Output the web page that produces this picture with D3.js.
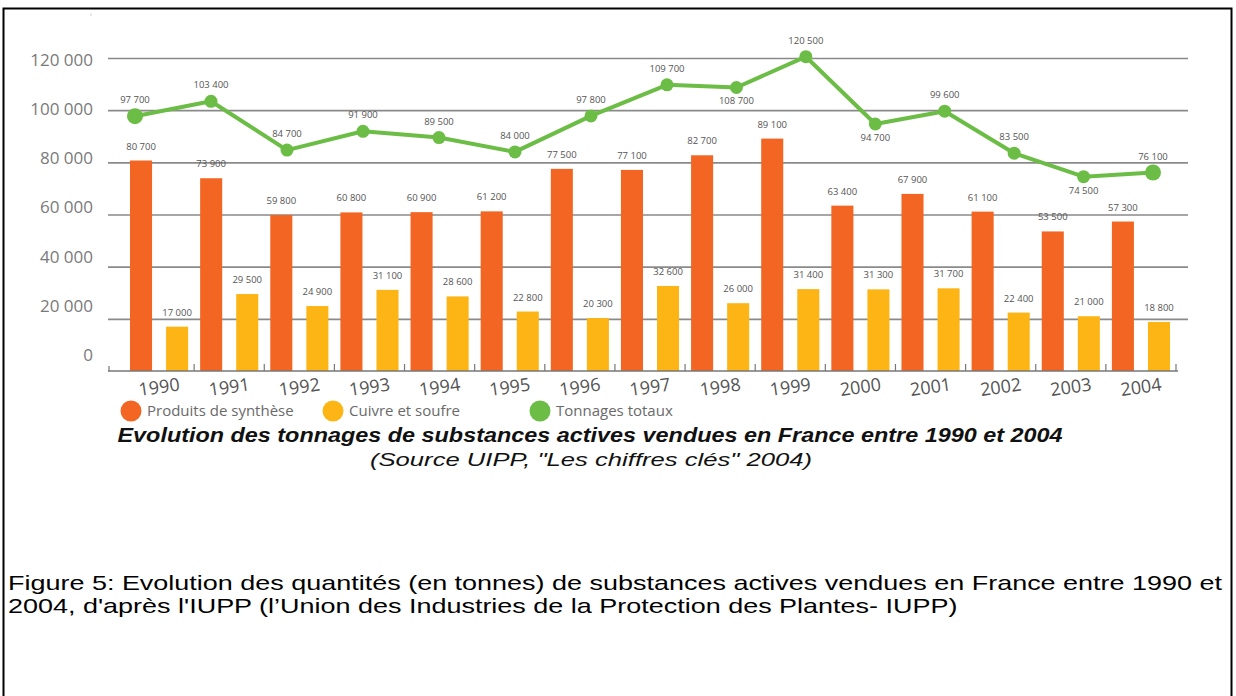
<!DOCTYPE html>
<html>
<head>
<meta charset="utf-8">
<script src="https://cdn.jsdelivr.net/npm/d3@7"></script>
<style>
  body { margin: 0; background: #fff; }
  svg { display: block; }
</style>
</head>
<body>
<div id="chart"></div>
<script>
// data
var years = [1990, 1991, 1992, 1993, 1994, 1995, 1996, 1997, 1998, 1999, 2000, 2001, 2002, 2003, 2004];
var synthese = [80700, 73900, 59800, 60800, 60900, 61200, 77500, 77100, 82700, 89100, 63400, 67900, 61100, 53500, 57300];
var cuivre = [17000, 29500, 24900, 31100, 28600, 22800, 20300, 32600, 26000, 31400, 31300, 31700, 22400, 21000, 18800];
var totaux = [97700, 103400, 84700, 91900, 89500, 84000, 97800, 109700, 108700, 120500, 94700, 99600, 83500, 74500, 76100];
var yTicks = [0, 20000, 40000, 60000, 80000, 100000, 120000];
var totalLabelBelow = [1998, 2000, 2003];

var seriesNames = ["Produits de synthèse", "Cuivre et soufre", "Tonnages totaux"];
var colors = ["#f26522", "#fdb515", "#6cbd45"];

var svgWidth = 1236;
var svgHeight = 696;

var fr = d3.formatLocale({decimal: ",", thousands: " ", grouping: [3], currency: ["", " €"]});
var fmt = fr.format(",");

var svg = d3.select("#chart")
    .append("svg")
    .attr("width", svgWidth)
    .attr("height", svgHeight);

// frame
svg.append("rect")
    .attr("x", 3.5).attr("y", 8.5)
    .attr("width", 1228).attr("height", 720)
    .attr("fill", "none")
    .attr("stroke", "#000")
    .attr("stroke-width", 2);

// scales
var y = d3.scaleLinear().domain([0, 120000]).range([371, 58]);
// tick labels in the original are a bit tighter than the grid
var yLabel = d3.scaleLinear().domain([0, 120000]).range([355, 60]);

var x = d3.scaleBand().domain(years).range([124, 1176]);
var xSub = d3.scaleBand()
    .domain(["synthese", "cuivre"])
    .range([0, x.bandwidth()])
    .paddingInner(14 / 36)
    .paddingOuter(1 / 6);
// the totals line sits on its own, slightly wider, axis
var xLine = d3.scaleLinear().domain([1990, 1997, 2004]).range([135, 667, 1153]);

// grid
var grid = svg.append("g")
    .attr("transform", "translate(108,0)")
    .call(d3.axisRight(y).tickValues(yTicks.filter(d => d > 0)).tickSize(1080).tickFormat(""));
grid.select(".domain").remove();
grid.selectAll("line").attr("stroke", "#8a8a8a").attr("stroke-width", 1.6);

// y labels
var yAxis = svg.append("g")
    .attr("transform", "translate(93,0)")
    .call(d3.axisLeft(yLabel).tickValues(yTicks).tickSize(0).tickPadding(0).tickFormat(fmt));
yAxis.select(".domain").remove();
yAxis.selectAll("text")
    .attr("fill", "#7a7a7a")
    .style("font-family", "'Open Sans', sans-serif")
    .style("font-size", "17px");

svg.append("text")
    .attr("x", 90).attr("y", 20)
    .attr("fill", "#aaa")
    .style("font-size", "9px")
    .text("'");

// bars
var bars = svg.append("g");
years.forEach(function (yr, i) {
    var g = bars.append("g").attr("transform", `translate(${x(yr)},0)`);
    [["synthese", synthese[i], colors[0]], ["cuivre", cuivre[i], colors[1]]].forEach(function (s) {
        g.append("rect")
            .attr("x", xSub(s[0]))
            .attr("y", y(s[1]))
            .attr("width", xSub.bandwidth())
            .attr("height", y(0) - y(s[1]))
            .attr("fill", s[2]);
        g.append("text")
            .attr("x", xSub(s[0]) + xSub.bandwidth() / 2)
            .attr("y", y(s[1]) - 11)
            .attr("text-anchor", "middle")
            .attr("fill", "#555")
            .style("font-family", "'Open Sans', sans-serif")
            .style("font-size", "9.5px")
            .text(fmt(s[1]));
    });
});

// baseline with the small ticks between years
svg.append("line")
    .attr("x1", 108).attr("x2", 1178)
    .attr("y1", y(0)).attr("y2", y(0))
    .attr("stroke", "#777").attr("stroke-width", 1.6);
svg.append("g").selectAll("line")
    .data(years)
    .enter()
    .append("line")
    .attr("x1", d => x(d) + x.bandwidth())
    .attr("x2", d => x(d) + x.bandwidth())
    .attr("y1", y(0)).attr("y2", y(0) - 7)
    .attr("stroke", "#777").attr("stroke-width", 1.2);
svg.append("line")
    .attr("x1", 109).attr("x2", 109)
    .attr("y1", y(0)).attr("y2", y(0) - 5)
    .attr("stroke", "#777").attr("stroke-width", 1.2);

// year labels, slightly tilted
svg.append("g").selectAll("text")
    .data(years)
    .enter()
    .append("text")
    .attr("transform", d => `translate(${x(d) + x.bandwidth() / 2},${y(0) + 16}) rotate(-8)`)
    .attr("text-anchor", "middle")
    .attr("dy", "0.35em")
    .attr("fill", "#555")
    .style("font-family", "'Open Sans', sans-serif")
    .style("font-size", "18px")
    .text(d => d);

// totals line
var lineData = years.map((yr, i) => ({year: yr, value: totaux[i]}));
svg.append("path")
    .datum(lineData)
    .attr("fill", "none")
    .attr("stroke", colors[2])
    .attr("stroke-width", 4)
    .attr("stroke-linejoin", "round")
    .attr("d", d3.line().x(d => xLine(d.year)).y(d => y(d.value)));

svg.append("g").selectAll("circle")
    .data(lineData)
    .enter()
    .append("circle")
    .attr("cx", d => xLine(d.year))
    .attr("cy", d => y(d.value))
    .attr("r", (d, i) => (i === 0 || i === years.length - 1) ? 8 : 6.5)
    .attr("fill", colors[2]);

svg.append("g").selectAll("text")
    .data(lineData)
    .enter()
    .append("text")
    .attr("x", d => xLine(d.year))
    .attr("y", d => y(d.value) + (totalLabelBelow.indexOf(d.year) >= 0 ? 17 : -13))
    .attr("text-anchor", "middle")
    .attr("fill", "#555")
    .style("font-family", "'Open Sans', sans-serif")
    .style("font-size", "9.5px")
    .text(d => fmt(d.value));

// legend
var legendX = [131, 333, 540];
var legend = svg.append("g").selectAll("g")
    .data(seriesNames)
    .enter()
    .append("g")
    .attr("transform", (d, i) => `translate(${legendX[i]},411)`);
legend.append("circle")
    .attr("r", 10.5)
    .attr("fill", (d, i) => colors[i]);
legend.append("text")
    .attr("x", 16)
    .attr("dy", "0.35em")
    .attr("fill", "#6a6a6a")
    .style("font-family", "'Open Sans', sans-serif")
    .style("font-size", "15px")
    .text(d => d);

// stretch a text line to a width measured on the picture
function stretchText(sel, width) {
    sel.attr("textLength", width).attr("lengthAdjust", "spacingAndGlyphs");
}

var title = svg.append("text")
    .attr("x", 590).attr("y", 442)
    .attr("text-anchor", "middle")
    .attr("fill", "#111")
    .style("font-family", "'Liberation Sans', Arial, sans-serif")
    .style("font-weight", "bold")
    .style("font-style", "italic")
    .style("font-size", "21px")
    .text("Evolution des tonnages de substances actives vendues en France entre 1990 et 2004");
stretchText(title, 945);

var source = svg.append("text")
    .attr("x", 591).attr("y", 466)
    .attr("text-anchor", "middle")
    .attr("fill", "#111")
    .style("font-family", "'Liberation Sans', Arial, sans-serif")
    .style("font-style", "italic")
    .style("font-size", "18px")
    .text("(Source UIPP, \"Les chiffres clés\" 2004)");
stretchText(source, 442);

// caption: the original glyphs are wider than Arial, so stretch to width
var capLines = [
    "Figure 5: Evolution des quantités (en tonnes) de substances actives vendues en France entre 1990 et",
    "2004, d'après l'IUPP (l’Union des Industries de la Protection des Plantes- IUPP)"
];
var caps = svg.append("g").selectAll("text")
    .data(capLines)
    .enter()
    .append("text")
    .attr("x", 8)
    .attr("y", (d, i) => 590 + i * 23)
    .attr("fill", "#000")
    .style("font-family", "'Liberation Sans', Arial, sans-serif")
    .style("font-size", "21px")
    .text(d => d);
var stretch = 1214 / caps.nodes()[0].getComputedTextLength();
caps.each(function () {
    stretchText(d3.select(this), this.getComputedTextLength() * stretch);
});
</script>
</body>
</html>
